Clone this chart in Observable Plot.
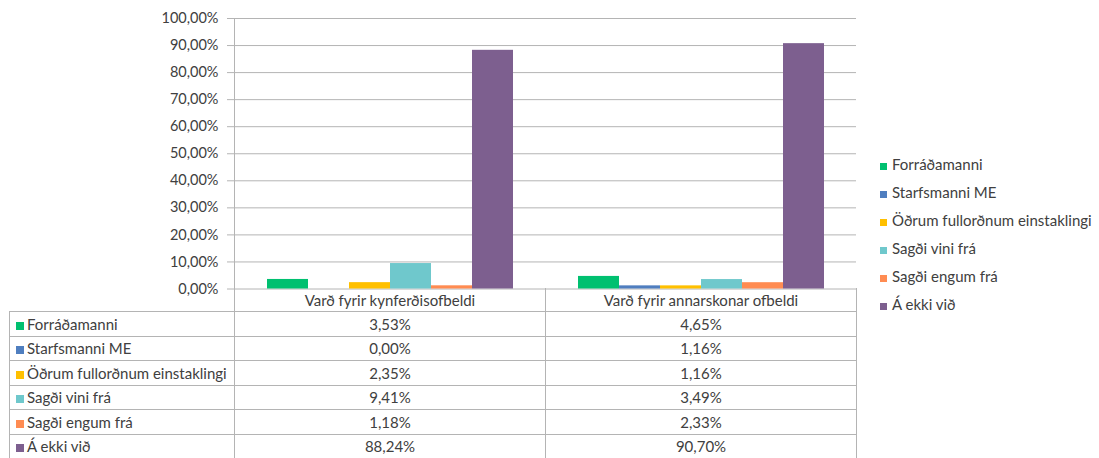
<!DOCTYPE html>
<html>
<head>
<meta charset="utf-8">
<script src="https://cdn.jsdelivr.net/npm/d3@7"></script>
<script src="https://cdn.jsdelivr.net/npm/@observablehq/plot@0.6"></script>
<style>
  html, body { margin: 0; padding: 0; background: #fff; }
  #chart { position: relative; width: 1099px; height: 458px; overflow: hidden; background: #fff;
    font-family: Lato, "Liberation Sans", sans-serif; font-size: 15px; color: #404040; }
  #chart svg { position: absolute; left: 0; top: 0; }
  #yline { position: absolute; left: 233.5px; top: 18px; width: 1px; height: 271px; background: #b4b4b4; }
  table.dt { position: absolute; left: 9px; top: 288px; border-collapse: collapse; table-layout: fixed; }
  table.dt td { border: 1px solid #b4b4b4; padding: 0; white-space: nowrap; overflow: hidden; }
  table.dt td.val { text-align: center; }
  table.dt tr.head td { height: 23px; border-top: none; }
  table.dt tr.head td.empty { border-left: none; border-top: none; }
  table.dt tr.body td { height: 23.5px; }
  .sw { display: inline-block; width: 8px; height: 8px; margin-left: 6px; margin-right: 3px; vertical-align: 0px; }
  #legend { position: absolute; left: 880px; top: 150px; }
  #legend .item { height: 28px; line-height: 28px; white-space: nowrap; }
  #legend .item .sw { margin-left: 0; margin-right: 5px; width: 7px; height: 7px; }
</style>
</head>
<body>
<div id="chart"></div>
<script>
const categories = ["Varð fyrir kynferðisofbeldi", "Varð fyrir annarskonar ofbeldi"];
const series = ["Forráðamanni", "Starfsmanni ME", "Öðrum fullorðnum einstaklingi", "Sagði vini frá", "Sagði engum frá", "Á ekki við"];
const valuesKynferdis = [3.53, 0.00, 2.35, 9.41, 1.18, 88.24];
const valuesAnnarskonar = [4.65, 1.16, 1.16, 3.49, 2.33, 90.70];
const colors = ["#00C070", "#4F7EBF", "#FFC000", "#6FC8CC", "#FF8C52", "#7D5F8F"];
const yTicks = [0, 10, 20, 30, 40, 50, 60, 70, 80, 90, 100];

const fmt = v => v.toFixed(2).replace(".", ",") + "%";

const seriesValues = [valuesKynferdis, valuesAnnarskonar];
const data = [];
categories.forEach((c, ci) => series.forEach((s, si) => data.push({cat: c, series: s, value: seriesValues[ci][si]})));

const chart = document.getElementById("chart");

const plot = Plot.plot({
  width: 1099,
  height: 300,
  marginLeft: 234,
  marginRight: 243,
  marginTop: 18,
  marginBottom: 11.5,
  fx: {domain: categories, padding: 0, axis: null, label: null},
  x: {domain: series, paddingInner: 0, paddingOuter: 0.75, axis: null},
  y: {domain: [0, 100], axis: null},
  color: {domain: series, range: colors},
  style: {fontFamily: "Lato, 'Liberation Sans', sans-serif", fontSize: "14.5px", color: "#404040", background: "transparent"},
  marks: [
    Plot.gridY(yTicks, {stroke: "#b4b4b4", strokeOpacity: 1}),
    Plot.axisY(yTicks, {tickSize: 7, tickPadding: 9, stroke: "#b4b4b4", fill: "#404040", tickFormat: fmt, label: null}),
    Plot.barY(data, {fx: "cat", x: "series", y: "value", fill: "series"})
  ]
});
chart.appendChild(plot);

const yl = document.createElement("div");
yl.id = "yline";
chart.appendChild(yl);

// data table
const table = document.createElement("table");
table.className = "dt";
const cg = document.createElement("colgroup");
[225, 311, 311].forEach(w => { const c = document.createElement("col"); c.style.width = w + "px"; cg.appendChild(c); });
table.appendChild(cg);
const head = document.createElement("tr");
head.className = "head";
const e = document.createElement("td"); e.className = "empty"; head.appendChild(e);
categories.forEach(c => { const td = document.createElement("td"); td.className = "val"; td.textContent = c; head.appendChild(td); });
table.appendChild(head);
series.forEach((s, si) => {
  const tr = document.createElement("tr");
  tr.className = "body";
  const l = document.createElement("td");
  l.innerHTML = `<span class="sw" style="background:${colors[si]}"></span>${s}`;
  tr.appendChild(l);
  seriesValues.forEach(vals => { const td = document.createElement("td"); td.className = "val"; td.textContent = fmt(vals[si]); tr.appendChild(td); });
  table.appendChild(tr);
});
chart.appendChild(table);

// legend
const legend = document.createElement("div");
legend.id = "legend";
series.forEach((s, si) => {
  const it = document.createElement("div");
  it.className = "item";
  it.innerHTML = `<span class="sw" style="background:${colors[si]}"></span>${s}`;
  legend.appendChild(it);
});
chart.appendChild(legend);
</script>
</body>
</html>
